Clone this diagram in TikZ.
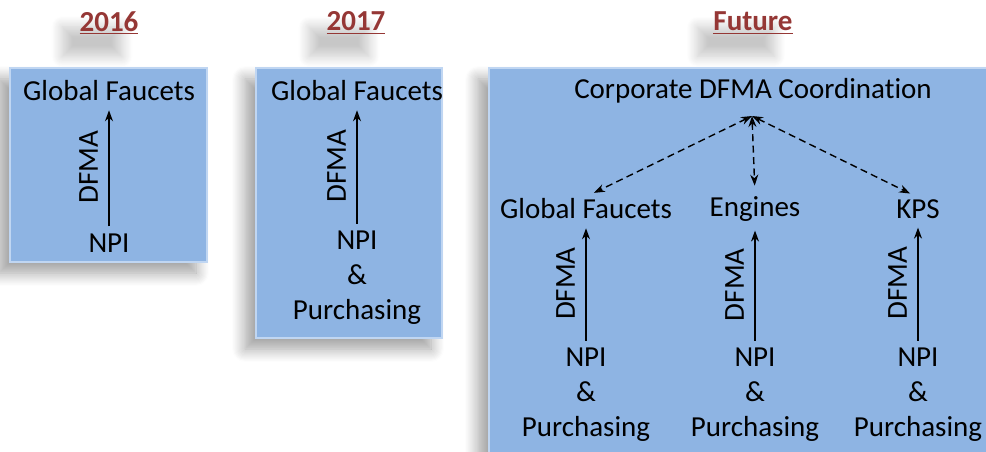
\documentclass[tikz,border=0pt]{standalone}
\usepackage{fontspec}
\setmainfont{Carlito}[Ligatures=NoCommon]
\usetikzlibrary{arrows.meta,shadows.blur}
\definecolor{boxblue}{RGB}{142,180,227}
\definecolor{boxedge}{RGB}{192,214,242}
\definecolor{titlered}{RGB}{149,55,53}
\tikzset{
  yearbox/.style={fill=boxblue, draw=boxedge, line width=0.8pt,
    blur shadow={shadow xshift=-2.2mm, shadow yshift=-2.2mm,
      shadow blur radius=2.6mm, shadow blur steps=12, shadow opacity=38}},
  lbl/.style={font=\fontsize{16.5}{20}\selectfont, align=center, inner sep=1pt},
  heading/.style={font=\fontsize{16.5}{20}\selectfont\bfseries, text=titlered,
    blur shadow={shadow xshift=-4mm, shadow yshift=-4.4mm, shadow scale=0.85,
      shadow blur radius=2.5mm, shadow blur steps=12, shadow opacity=22}},
  flow/.style={-{Stealth[length=2.2mm,width=1.6mm]}, line width=0.8pt,
    shorten <=3pt, shorten >=4pt},
  link/.style={{Stealth[length=2.2mm,width=1.6mm]}-{Stealth[length=2.2mm,width=1.6mm]},
    dash pattern=on 4pt off 2.5pt, line width=0.8pt},
}
\begin{document}
\begin{tikzpicture}[x=0.02cm,y=-0.02cm]
  \useasboundingbox (0,0) rectangle (986,452);
  \clip (0,0) rectangle (986,452);

  % headings
  \node[heading] (t16) at (109,23) {\underline{2016}};
  \node[heading] (t17) at (356,23) {\underline{2017}};
  \node[heading] (tfut) at (753,23) {\underline{Future}};

  % boxes
  \path[yearbox] (10,68) rectangle (207,262);
  \path[yearbox] (256,68) rectangle (442,338);
  \path[yearbox] (489,68) rectangle (995,470);

  % 2016
  \node[lbl] (gf16) at (109,91) {Global Faucets};
  \node[lbl] (npi16) at (109,243) {NPI};
  \draw[flow] (npi16.north) -- (gf16.south)
    node[midway, above=5pt, sloped, lbl] {DFMA};

  % 2017
  \node[lbl] (gf17) at (357,91) {Global Faucets};
  \node[lbl] (npi17) at (357,278) {NPI\\\&\\Purchasing};
  \draw[flow] (npi17.north) -- (gf17.south)
    node[midway, above=5pt, sloped, lbl] {DFMA};

  % Future
  \node[lbl] (corp) at (753,91) {Corporate DFMA Coordination};
  \coordinate (hub) at (752,116);
  \node[lbl] (gfx) at (586,209) {Global Faucets};
  \node[lbl] (eng) at (755,209) {Engines};
  \node[lbl] (kps) at (918,209) {KPS};
  \node[lbl] (npix) at (586,395) {NPI\\\&\\Purchasing};
  \node[lbl] (npie) at (755,395) {NPI\\\&\\Purchasing};
  \node[lbl] (npik) at (918,395) {NPI\\\&\\Purchasing};

  \draw[link, shorten >=5pt] (hub) -- (gfx.north);
  \draw[link, shorten >=5pt] (hub) -- (eng.north);
  \draw[link, shorten >=5pt] (hub) -- (kps.north);

  \draw[flow] (npix.north) -- (gfx.south) node[midway, above=5pt, sloped, lbl] {DFMA};
  \draw[flow] (npie.north) -- (eng.south) node[midway, above=5pt, sloped, lbl] {DFMA};
  \draw[flow] (npik.north) -- (kps.south) node[midway, above=5pt, sloped, lbl] {DFMA};
\end{tikzpicture}
\end{document}
